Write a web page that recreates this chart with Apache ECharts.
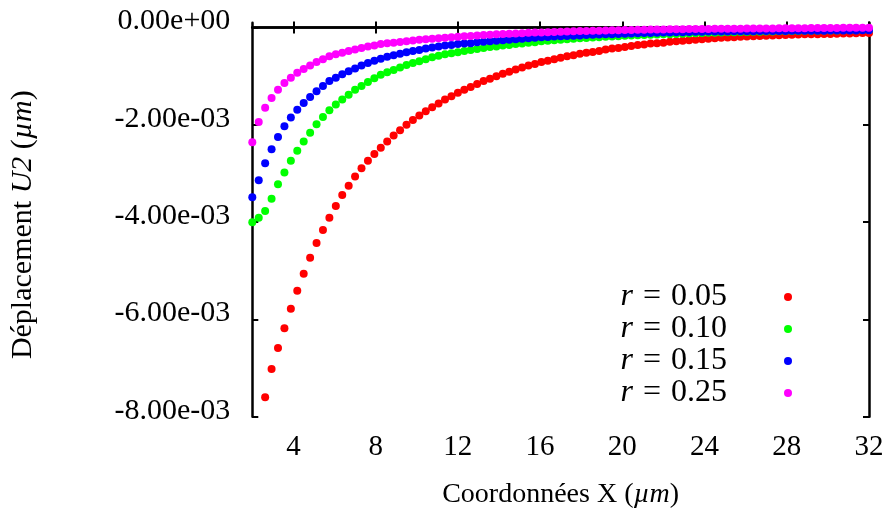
<!DOCTYPE html>
<html>
<head>
<meta charset="utf-8">
<script src="https://cdn.jsdelivr.net/npm/echarts@6/dist/echarts.min.js"></script>
<style>html,body{margin:0;padding:0;background:#fff;}#c{width:890px;height:508px;}</style>
</head>
<body>
<div id="c"></div>
<script>
// X coordinates (µm)
var X = [2,2.3125,2.625,2.9375,3.25,3.5625,3.875,4.1875,4.5,4.8125,5.125,5.4375,5.75,6.0625,6.375,6.6875,7,7.3125,7.625,7.9375,8.25,8.5625,8.875,9.1875,9.5,9.8125,10.125,10.4375,10.75,11.0625,11.375,11.6875,12,12.3125,12.625,12.9375,13.25,13.5625,13.875,14.1875,14.5,14.8125,15.125,15.4375,15.75,16.0625,16.375,16.6875,17,17.3125,17.625,17.9375,18.25,18.5625,18.875,19.1875,19.5,19.8125,20.125,20.4375,20.75,21.0625,21.375,21.6875,22,22.3125,22.625,22.9375,23.25,23.5625,23.875,24.1875,24.5,24.8125,25.125,25.4375,25.75,26.0625,26.375,26.6875,27,27.3125,27.625,27.9375,28.25,28.5625,28.875,29.1875,29.5,29.8125,30.125,30.4375,30.75,31.0625,31.375,31.6875,32];

// U2 displacement values, in units of 1e-3 µm (null = outside the plotted range)
var r005 = [null,null,-7.60,-7.02,-6.59,-6.18,-5.78,-5.41,-5.06,-4.73,-4.43,-4.16,-3.91,-3.67,-3.44,-3.25,-3.06,-2.89,-2.74,-2.60,-2.47,-2.34,-2.22,-2.11,-2.00,-1.90,-1.81,-1.72,-1.64,-1.56,-1.48,-1.41,-1.34,-1.28,-1.22,-1.16,-1.10,-1.05,-1.00,-0.95,-0.91,-0.86,-0.82,-0.78,-0.75,-0.71,-0.68,-0.65,-0.62,-0.59,-0.57,-0.54,-0.52,-0.50,-0.48,-0.45,-0.43,-0.42,-0.40,-0.38,-0.36,-0.35,-0.33,-0.32,-0.31,-0.29,-0.28,-0.27,-0.26,-0.25,-0.24,-0.23,-0.22,-0.21,-0.205,-0.20,-0.19,-0.185,-0.18,-0.175,-0.17,-0.165,-0.16,-0.155,-0.15,-0.145,-0.14,-0.14,-0.135,-0.13,-0.13,-0.125,-0.12,-0.12,-0.115,-0.11,-0.11];
var r010 = [-4.00,-3.91,-3.77,-3.52,-3.22,-2.98,-2.74,-2.53,-2.34,-2.16,-1.99,-1.84,-1.70,-1.58,-1.48,-1.38,-1.28,-1.20,-1.12,-1.04,-0.97,-0.92,-0.87,-0.82,-0.77,-0.73,-0.69,-0.65,-0.61,-0.58,-0.55,-0.53,-0.51,-0.48,-0.46,-0.44,-0.42,-0.40,-0.39,-0.37,-0.36,-0.34,-0.33,-0.31,-0.30,-0.28,-0.27,-0.26,-0.25,-0.24,-0.23,-0.22,-0.215,-0.205,-0.20,-0.19,-0.185,-0.18,-0.17,-0.165,-0.16,-0.155,-0.15,-0.145,-0.14,-0.135,-0.13,-0.125,-0.12,-0.115,-0.11,-0.108,-0.105,-0.10,-0.098,-0.095,-0.092,-0.089,-0.087,-0.084,-0.082,-0.079,-0.077,-0.075,-0.072,-0.070,-0.068,-0.066,-0.064,-0.062,-0.060,-0.058,-0.057,-0.055,-0.053,-0.052,-0.050];
var r015 = [-3.49,-3.14,-2.79,-2.50,-2.25,-2.03,-1.85,-1.69,-1.55,-1.43,-1.31,-1.20,-1.10,-1.03,-0.96,-0.90,-0.84,-0.78,-0.73,-0.68,-0.64,-0.60,-0.57,-0.54,-0.51,-0.48,-0.46,-0.43,-0.41,-0.39,-0.37,-0.36,-0.34,-0.33,-0.32,-0.30,-0.29,-0.28,-0.27,-0.26,-0.25,-0.24,-0.23,-0.22,-0.21,-0.20,-0.193,-0.186,-0.179,-0.173,-0.167,-0.161,-0.155,-0.150,-0.145,-0.140,-0.135,-0.130,-0.125,-0.121,-0.117,-0.113,-0.110,-0.106,-0.103,-0.100,-0.097,-0.094,-0.091,-0.088,-0.085,-0.083,-0.082,-0.081,-0.079,-0.078,-0.077,-0.076,-0.075,-0.073,-0.072,-0.071,-0.070,-0.069,-0.068,-0.067,-0.066,-0.065,-0.064,-0.063,-0.062,-0.061,-0.060,-0.059,-0.058,-0.057,-0.057];
var r025 = [-2.36,-1.94,-1.65,-1.45,-1.28,-1.14,-1.03,-0.93,-0.85,-0.78,-0.71,-0.65,-0.59,-0.55,-0.52,-0.48,-0.45,-0.42,-0.39,-0.37,-0.34,-0.325,-0.31,-0.295,-0.28,-0.265,-0.25,-0.24,-0.23,-0.22,-0.209,-0.199,-0.189,-0.180,-0.171,-0.163,-0.155,-0.147,-0.140,-0.133,-0.127,-0.121,-0.115,-0.109,-0.104,-0.099,-0.094,-0.089,-0.085,-0.081,-0.077,-0.073,-0.070,-0.066,-0.063,-0.060,-0.057,-0.054,-0.052,-0.049,-0.047,-0.045,-0.042,-0.040,-0.038,-0.036,-0.035,-0.033,-0.031,-0.030,-0.028,-0.027,-0.026,-0.025,-0.024,-0.023,-0.022,-0.021,-0.020,-0.019,-0.018,-0.017,-0.016,-0.015,-0.014,-0.013,-0.012,-0.011,-0.010,-0.009,-0.008,-0.007,-0.006,-0.005,-0.004,-0.003,-0.002];

var seriesNames = ['r = 0.05','r = 0.10','r = 0.15','r = 0.25'];
var seriesColors = ['#ff0000','#00ff00','#0000ff','#ff00ff'];
var xTicks = [4,8,12,16,20,24,28,32];
var yTicks = [0,-0.002,-0.004,-0.006,-0.008];

function pairs(vals){
  var out = [];
  for (var i = 0; i < X.length; i++) if (vals[i] != null) out.push([X[i], vals[i] * 1e-3]);
  return out;
}
function fmtY(v){
  var s = Math.abs(v) < 1e-12 ? '0.00e+00' : v.toExponential(2).replace(/e([+-])(\d)$/, 'e$10$2');
  return '{a|' + s + '}';
}

var FONT = 'Liberation Serif';
var chart = echarts.init(document.getElementById('c'), null, {renderer:'canvas'});
var axisLine = {show:true, lineStyle:{color:'#000', width:2.5}};
var tick = {show:true, inside:true, length:6, lineStyle:{color:'#000', width:2}};
var allData = [r005, r010, r015, r025];

chart.setOption({
  animation:false,
  backgroundColor:'#fff',
  grid:{left:252.3, right:21, top:22.7, bottom:91.3, containLabel:false, outerBoundsMode:'none'},
  xAxis:[{
    type:'value', min:2, max:32, position:'bottom',
    axisLine:axisLine, axisTick:Object.assign({customValues:xTicks}, tick),
    axisLabel:{customValues:xTicks, color:'#000', fontFamily:FONT, fontSize:29, margin:16},
    splitLine:{show:false},
    name:'Coordonnées X ({i|µm})', nameLocation:'middle', nameGap:64,
    nameTextStyle:{color:'#000', fontFamily:FONT, fontSize:28, rich:{i:{fontStyle:'italic', fontFamily:FONT, fontSize:28, color:'#000'}}}
  },{
    type:'value', min:2, max:32, position:'top',
    axisLine:axisLine, axisTick:Object.assign({customValues:xTicks}, tick),
    axisLabel:{show:false}, splitLine:{show:false}
  }],
  yAxis:[{
    type:'value', min:-0.008, max:0.0001, position:'left',
    axisLine:axisLine, axisTick:Object.assign({customValues:yTicks}, tick),
    axisLabel:{customValues:yTicks, formatter:fmtY, color:'#000', fontFamily:FONT, fontSize:30, margin:22,
      rich:{a:{fontFamily:FONT, fontSize:30, color:'#000', padding:[0,0,12,0]}}},
    splitLine:{show:false},
    name:'Déplacement {i|U2} ({i|µm})', nameLocation:'middle', nameGap:214, nameRotate:90,
    nameTextStyle:{color:'#000', fontFamily:FONT, fontSize:30, padding:[0,10,0,0], rich:{i:{fontStyle:'italic', fontFamily:FONT, fontSize:30, color:'#000'}}}
  },{
    type:'value', min:-0.008, max:0.0001, position:'right',
    axisLine:axisLine, axisTick:Object.assign({customValues:yTicks}, tick),
    axisLabel:{show:false}, splitLine:{show:false}
  }],
  legend:{
    orient:'vertical', right:93, top:276, align:'right', itemGap:0,
    icon:'circle', itemWidth:8, itemHeight:8,
    data:seriesNames,
    formatter:function(n){ return n.replace(/^r = /, '{i|r}{e|=}'); },
    textStyle:{color:'#000', fontFamily:FONT, fontSize:32, lineHeight:31, padding:[0,52,0,0],
      rich:{
        i:{fontStyle:'italic', fontFamily:FONT, fontSize:32, lineHeight:31, color:'#000'},
        e:{fontFamily:FONT, fontSize:32, lineHeight:31, color:'#000', padding:[0,10,0,10]}
      }}
  },
  series: allData.map(function(d, k){
    return {
      name:seriesNames[k], type:'scatter', symbol:'circle', symbolSize:8,
      xAxisIndex:0, yAxisIndex:0, clip:false,
      itemStyle:{color:seriesColors[k], opacity:1},
      data:pairs(d)
    };
  })
});
</script>
</body>
</html>
